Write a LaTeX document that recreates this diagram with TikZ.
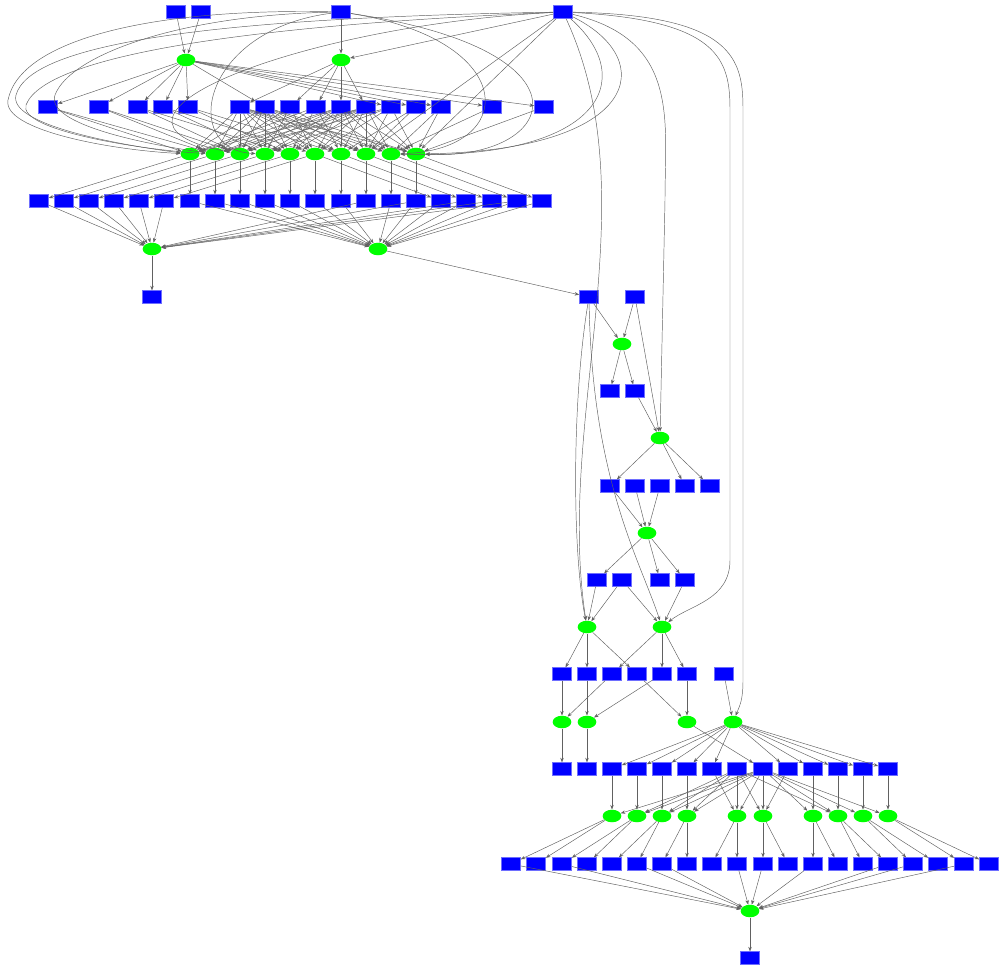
\documentclass[tikz,border=0pt]{standalone}
\usetikzlibrary{arrows.meta,shapes.geometric}
\begin{document}
\begin{tikzpicture}[x=0.75pt,y=-0.75pt,
 bx/.style={rectangle,fill=blue,draw={rgb,255:red,110;green,110;blue,255},line width=0.4pt,minimum width=14.4pt,minimum height=9.6pt,inner sep=0pt},
 el/.style={ellipse,fill=green,draw=none,minimum width=14pt,minimum height=9.4pt,inner sep=0pt},
 ed/.style={draw=black!62,line width=0.35pt,-{Stealth[length=3.4pt,width=2.6pt]}}]
\useasboundingbox (0,0) rectangle (1000,972);
% ---------- top part ----------
\foreach \n/\x in {1/176,2/201,3/341,4/563} \node[bx] (a\n) at (\x,12) {};
\node[el] (b1) at (186,60) {};
\node[el] (b2) at (341,60) {};
\foreach \n/\x in {1/48,2/99,3/138,4/163,5/188,6/240,7/265,8/290,9/316,10/341,11/366,12/391,13/416,14/441,15/492,16/544}
  \node[bx] (c\n) at (\x,107) {};
\foreach \n/\x in {1/190,2/215,3/240,4/265,5/290,6/315,7/341,8/366,9/391,10/416}
  \node[el] (d\n) at (\x,154) {};
\foreach \n/\x in {1/39,2/64,3/89,4/114,5/139,6/164,7/190,8/215,9/240,10/265,11/290,12/315,13/341,14/366,15/391,16/416,17/441,18/466,19/492,20/517,21/542}
  \node[bx] (e\n) at (\x,201) {};
\node[el] (f1) at (152,249) {};
\node[el] (f2) at (378,249) {};
\node[bx] (g1) at (152,297) {};
% ---------- right column ----------
\node[bx] (h1) at (589,297) {};
\node[bx] (h2) at (635,297) {};
\node[el] (i1) at (622,344) {};
\node[bx] (j1) at (610,391) {};
\node[bx] (j2) at (635,391) {};
\node[el] (k1) at (660,438) {};
\foreach \n/\x in {1/610,2/635,3/660,4/685,5/710} \node[bx] (l\n) at (\x,486) {};
\node[el] (m1) at (647,533) {};
\foreach \n/\x in {1/597,2/622,3/660,4/685} \node[bx] (n\n) at (\x,580) {};
\node[el] (o1) at (587,627) {};
\node[el] (o2) at (662,627) {};
\foreach \n/\x in {1/562,2/587,3/612,4/637,5/662,6/687,7/724} \node[bx] (p\n) at (\x,674) {};
\node[el] (q1) at (562,722) {};
\node[el] (q2) at (587,722) {};
\node[el] (q3) at (687,722) {};
\node[el] (q4) at (733,722) {};
\foreach \n/\x in {1/562,2/587,3/612,4/637,5/662,6/687,7/712,8/737,9/763,10/788,11/813,12/838,13/863,14/888}
  \node[bx] (r\n) at (\x,769) {};
\foreach \n/\x in {1/612,2/637,3/662,4/687,5/737,6/763,7/813,8/838,9/863,10/888}
  \node[el] (s\n) at (\x,816) {};
\foreach \n/\x in {1/511,2/536,3/562,4/587,5/612,6/637,7/662,8/687,9/712,10/737,11/763,12/788,13/813,14/838,15/863,16/888,17/913,18/938,19/964,20/989}
  \node[bx] (t\n) at (\x,864) {};
\node[el] (u) at (750,911) {};
\node[bx] (v) at (750,958) {};
% ---------- edges: top ----------
\foreach \s/\t in {a1/b1,a2/b1,a3/b2,a4/b2,
  b1/c1,b1/c2,b1/c3,b1/c4,b1/c5,b1/c7,b1/c12,b1/c13,b1/c14,b1/c15,b1/c16,
  b2/c6,b2/c8,b2/c9,b2/c10,b2/c11,
  a4/d8,a4/d10,
  c1/d1,c1/d2,c2/d2,c2/d3,c3/d3,c3/d5,c4/d4,c4/d6,c5/d5,c5/d7,
  c8/d2,c8/d4,c8/d6,c8/d8,c9/d1,c9/d3,c9/d5,c9/d7,c9/d9,
  c12/d2,c12/d4,c12/d6,c12/d8,c12/d10,c13/d7,c13/d8,c14/d9,c14/d10,c15/d9,c16/d10,
  d1/e1,d2/e2,d3/e3,d4/e4,d5/e5,d6/e6,
  d1/e7,d2/e8,d3/e9,d4/e10,d5/e11,d6/e12,d7/e13,d8/e14,d9/e15,d10/e16,
  d6/e17,d7/e18,d8/e19,d9/e20,d10/e21,
  e1/f1,e2/f1,e3/f1,e4/f1,e5/f1,e6/f1,e14/f1,e16/f1,e18/f1,e19/f1,e20/f1,
  e7/f2,e8/f2,e9/f2,e10/f2,e11/f2,e12/f2,e13/f2,e15/f2,e16/f2,e17/f2,e18/f2,e19/f2,e20/f2,e21/f2,
  f1/g1,f2/h1}
  \draw[ed] (\s) -- (\t);
\foreach \c in {c6,c7,c10,c11}
  \foreach \k in {1,...,10}
    \draw[ed] (\c) -- (d\k);
% long curves from the top, looping round the left side
\draw[ed] (a3) .. controls (150,8) and (20,40) .. (8,100) .. controls (2,130) and (110,150) .. (d1);
\draw[ed] (a4) .. controls (200,18) and (30,45) .. (16,95) .. controls (8,125) and (120,145) .. (d1);
\draw[ed] (a4) .. controls (250,25) and (45,55) .. (26,105) .. controls (18,130) and (140,150) .. (d2);
\draw[ed] (a3) .. controls (180,15) and (70,55) .. (55,95) .. controls (45,125) and (150,145) .. (d2);
\draw[ed] (a4) .. controls (300,25) and (60,120) .. (d3);
\draw[ed] (a3) .. controls (200,30) and (180,150) .. (d4);
% loops round the right side
\draw[ed] (a3) .. controls (520,40) and (520,150) .. (d9);
\draw[ed] (a3) .. controls (600,50) and (560,160) .. (d10);
\draw[ed] (a4) .. controls (660,60) and (640,150) .. (d10);
\draw[ed] (a4) .. controls (640,80) and (600,160) .. (d9);
% long edges down the right column
\draw[ed] (a4) .. controls (680,40) and (665,120) .. (665,200) -- (k1);
\draw[ed] (a4) .. controls (650,200) and (555,420) .. (o1);
\draw[ed] (a4) .. controls (720,20) and (730,60) .. (730,110) -- (730,560) .. controls (730,600) and (690,605) .. (o2);
\draw[ed] (a4) .. controls (735,15) and (743,60) .. (743,110) -- (743,680) .. controls (743,700) and (740,705) .. (q4);
% ---------- edges: right column ----------
\foreach \s/\t in {h1/i1,h2/i1,i1/j1,i1/j2,j2/k1,h2/k1,
  k1/l1,k1/l4,k1/l5,l1/m1,l2/m1,l3/m1,m1/n1,m1/n3,m1/n4,
  n1/o1,n2/o1,n2/o2,n4/o2,
  o1/p1,o1/p2,o1/p4,o2/p3,o2/p5,o2/p6,
  p1/q1,p3/q1,p2/q2,p5/q2,p4/q3,p6/q3,p7/q4,
  q1/r1,q2/r2,q3/r9,
  q4/r3,q4/r4,q4/r5,q4/r6,q4/r7,q4/r10,q4/r11,q4/r12,q4/r13,q4/r14,
  r3/s1,r4/s2,r5/s3,r6/s4,r7/s5,r11/s7,r12/s8,r13/s9,r14/s10,r10/s6,
  r8/s2,r8/s3,r8/s4,r8/s5,r8/s6,r8/s8,
  r9/s1,r9/s2,r9/s3,r9/s4,r9/s5,r9/s6,r9/s7,r9/s8,r9/s9,r9/s10,
  s1/t1,s1/t2,s2/t3,s2/t4,s3/t5,s3/t6,s4/t7,s4/t8,s5/t9,s5/t10,
  s6/t11,s6/t12,s7/t13,s7/t14,s8/t15,s8/t16,s9/t17,s9/t18,s10/t19,s10/t20,
  t1/u,t3/u,t6/u,t7/u,t10/u,t11/u,t13/u,t16/u,t17/u,t19/u,u/v}
  \draw[ed] (\s) -- (\t);
\draw[ed] (h1) .. controls (572,400) and (572,550) .. (o1);
\draw[ed] (h1) .. controls (592,480) and (640,560) .. (o2);
\end{tikzpicture}
\end{document}
